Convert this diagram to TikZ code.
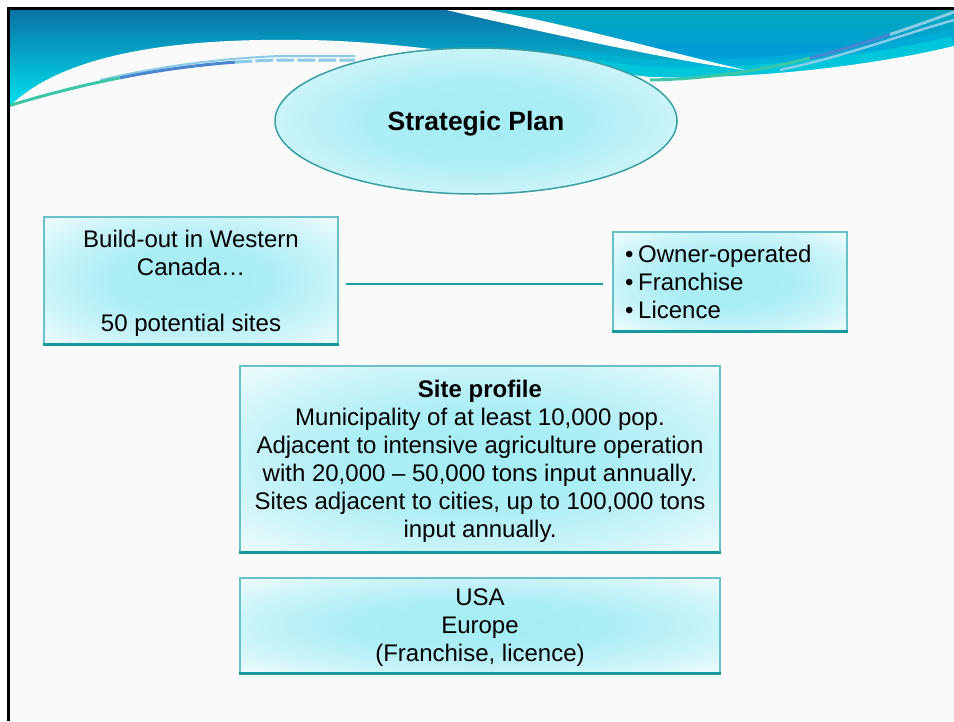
\documentclass[tikz,border=0pt]{standalone}
\usepackage{fontspec}
\setmainfont{Liberation Sans}
\usetikzlibrary{shapes.geometric}

\definecolor{pagebg}{HTML}{FAFAFA}
\definecolor{bandtop}{HTML}{0A70A4}
\definecolor{bandlow}{HTML}{00E6F2}
\definecolor{tealtop}{HTML}{00AABA}
\definecolor{bluemid}{HTML}{009CD8}
\definecolor{cyanedge}{HTML}{00C6DC}
\definecolor{ribgreen}{HTML}{3CC6A6}
\definecolor{ribblue}{HTML}{4A86D0}
\definecolor{riblight}{HTML}{8ACBE8}
\definecolor{panelcore}{HTML}{A4ECF4}
\definecolor{panelmid}{HTML}{ADEEF5}
\definecolor{panelsoft}{HTML}{CAF4F8}
\definecolor{panelrim}{HTML}{EEFCFD}
\definecolor{panelline}{HTML}{66C2C8}
\definecolor{panelbase}{HTML}{169A9E}
\definecolor{ovalline}{HTML}{3A9EA4}
\definecolor{linkline}{HTML}{1A9EA6}

% teal -> blue -> cyan band on the right of the header
\pgfdeclareverticalshading{rightband}{100bp}{color(0bp)=(cyanedge); color(36bp)=(cyanedge); color(50bp)=(bluemid); color(75bp)=(tealtop); color(100bp)=(tealtop)}
% soft cyan glow used inside the panels
\pgfdeclareradialshading{panelglow}{\pgfpoint{0bp}{0bp}}{color(0bp)=(panelcore); color(14bp)=(panelmid); color(25bp)=(panelsoft); color(35bp)=(panelrim); color(50bp)=(panelrim)}

\begin{document}
\begin{tikzpicture}[x=1pt,y=-1pt,
  panel/.style={rectangle, draw=panelline, line width=1.2pt, shade, shading=panelglow,
    inner sep=0pt, align=center, font=\fontsize{24}{28}\selectfont},
  oval/.style={ellipse, draw=ovalline, line width=1.5pt, shade, shading=panelglow,
    minimum width=402pt, minimum height=146pt, inner sep=0pt, text depth=0pt,
    font=\fontsize{26.5}{30}\selectfont\bfseries},
  link/.style={draw=linkline, line width=2pt},
  base/.style={draw=panelbase, line width=3pt},
]
\useasboundingbox (0,0) rectangle (954,721);
\fill[white] (0,0) rectangle (954,721);
\fill[pagebg] (8,8) rectangle (954,721);

% ---- header swoosh ----
\begin{scope}
  \clip (8,8) rectangle (954,160);
  \shade[top color=bandtop, bottom color=bandlow] (8,8) rectangle (954,110);
  % right part, beyond the white streak
  \shade[shading=rightband] (477,8) .. controls (560,22) and (660,50) .. (745,70)
     -- (745,100) -- (954,100) -- (954,8) -- cycle;
  % cyan glow along the lower edge
  \begin{scope}
    \clip (560,0) rectangle (954,160);
    \draw[draw=cyanedge!70!bluemid, line width=34pt, opacity=0.5]
       (300,40) .. controls (400,40) and (520,62) .. (650,77)
       .. controls (760,80) and (880,64) .. (954,46);
    \draw[draw=cyanedge, line width=20pt]
       (300,40) .. controls (400,40) and (520,62) .. (650,77)
       .. controls (760,80) and (880,64) .. (954,46);
  \end{scope}
  % white streak
  \fill[white] (438,8) -- (477,8) .. controls (560,22) and (660,50) .. (745,70)
     .. controls (680,62) and (540,32) .. (438,8) -- cycle;
  % page body
  \fill[pagebg] (8,108) .. controls (60,55) and (170,38) .. (300,40)
     .. controls (400,40) and (520,62) .. (650,77)
     .. controls (760,80) and (880,64) .. (954,46)
     -- (954,160) -- (8,160) -- cycle;
  % left ribbon
  \draw[riblight, line width=2pt] (100,80) .. controls (170,64) and (230,58) .. (280,56) -- (355,56);
  \begin{scope}
    \clip (0,0) rectangle (120,160);
    \draw[ribgreen, line width=3pt] (8,106) .. controls (100,78) and (190,62) .. (280,60) -- (355,60);
  \end{scope}
  \begin{scope}
    \clip (120,0) rectangle (235,160);
    \draw[ribblue, line width=3pt] (8,106) .. controls (100,78) and (190,62) .. (280,60) -- (355,60);
  \end{scope}
  \begin{scope}
    \clip (235,0) rectangle (400,160);
    \draw[riblight, line width=3pt, dash pattern=on 18pt off 3pt] (8,106) .. controls (100,78) and (190,62) .. (280,60) -- (355,60);
  \end{scope}
  % right ribbon
  \draw[riblight, line width=2.5pt] (780,70) .. controls (850,55) and (900,35) .. (954,20);
  \begin{scope}
    \clip (0,0) rectangle (810,160);
    \draw[ribgreen, line width=3pt] (650,80) .. controls (760,78) and (850,50) .. (954,12);
  \end{scope}
  \begin{scope}
    \clip (810,0) rectangle (890,160);
    \draw[ribblue, line width=3pt] (650,80) .. controls (760,78) and (850,50) .. (954,12);
  \end{scope}
  \begin{scope}
    \clip (890,0) rectangle (954,160);
    \draw[riblight, line width=3pt] (650,80) .. controls (760,78) and (850,50) .. (954,12);
  \end{scope}
\end{scope}

% frame
\draw[black, line width=3pt] (8,721) -- (8,8) -- (954,8);

% ---- title ----
\node[oval] (plan) at (476,121) {Strategic Plan};

% ---- panels ----
\node[panel, minimum width=294pt, minimum height=127pt, text depth=0pt] (build) at (191,280.5)
  {Build-out in Western\\Canada…\\[28pt]50 potential sites};
\node[panel, minimum width=234pt, minimum height=99pt, align=left,
  text width=210pt, inner xsep=12pt] (opts) at (730,281.5)
  {•\hspace{0.2em}Owner-operated\\•\hspace{0.2em}Franchise\\•\hspace{0.2em}Licence};
\node[panel, minimum width=480pt, minimum height=186pt, text depth=0pt] (profile) at (480,459)
  {\textbf{Site profile}\\Municipality of at least 10,000 pop.\\Adjacent to intensive agriculture operation\\with 20,000 – 50,000 tons input annually.\\Sites adjacent to cities, up to 100,000 tons\\input annually.};
\node[panel, minimum width=480pt, minimum height=95pt, text depth=0pt] (usa) at (480,625.5)
  {USA\\Europe\\(Franchise, licence)};

\foreach \n in {build, opts, profile, usa}
  \draw[base] (\n.south west) -- (\n.south east);

% ---- connector ----
\draw[link, shorten <=7pt, shorten >=9pt] ([yshift=-3.5pt]build.east) -- ([yshift=-2.5pt]opts.west);
\end{tikzpicture}
\end{document}
